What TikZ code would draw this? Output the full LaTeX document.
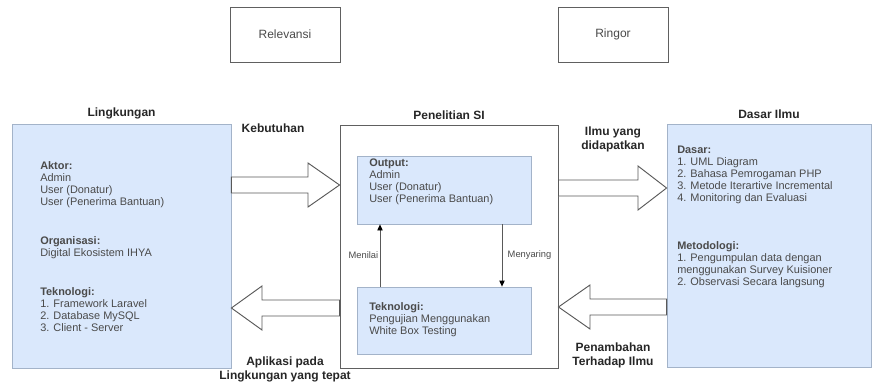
\documentclass[tikz,border=0pt]{standalone}
\usepackage{fontspec}
\setmainfont{Liberation Sans}
\usepackage{xcolor}
\usepackage{tikz}
\usetikzlibrary{arrows.meta, positioning, fit}

\definecolor{boxblue}{HTML}{DAE8FC}
\definecolor{boxline}{HTML}{A3B3C9}
\definecolor{txtgray}{HTML}{4A4A4A}

\begin{document}
\begin{tikzpicture}[x=0.75pt, y=-0.75pt,
    bluebox/.style={draw=boxline, fill=boxblue, inner sep=0pt, line width=0.6pt},
    plainbox/.style={draw=gray!75!black, fill=white, inner sep=0pt, line width=0.7pt},
    boxtext/.style={anchor=north west, align=left, inner sep=0pt, text=txtgray, font=\fontsize{8.2}{9}\selectfont},
    title/.style={font=\fontsize{9}{10.5}\selectfont\bfseries, text=black!85, align=center, inner sep=0pt},
    flowarrow/.style={draw=gray!70!black, fill=white, line width=0.7pt, line join=miter},
    smallarrow/.style={draw=gray!70!black, line width=0.6pt, -{Triangle[length=4.5pt, width=4pt, color=black]}},
    steplabel/.style={font=\fontsize{7}{8}\selectfont, text=txtgray}]
    \useasboundingbox (0,0) rectangle (872,385);

    % Top boxes
    \node[plainbox, minimum width=82.5pt, minimum height=41.25pt, text=txtgray, font=\fontsize{9}{11}\selectfont] (rel) at (285,34.5) {Relevansi};
    \node[plainbox, minimum width=82.5pt, minimum height=41.25pt, text=txtgray, font=\fontsize{9}{11}\selectfont] (rin) at (613,34.5) {Ringor};

    % Main boxes
    \node[bluebox, fit={(12,124) (231,368)}] (lk) {};
    \node[plainbox, fit={(340,125) (558,368)}] (pen) {};
    \node[bluebox, fit={(667,124) (871,367)}] (di) {};
    \node[bluebox, fit={(357,156) (531,224)}] (out) {};
    \node[bluebox, fit={(357,287) (531,354)}] (tek) {};

    % Titles
    \node[title, above=3.5pt of lk] (lktitle) {Lingkungan};
    \node[title, above=3.5pt of pen] (pentitle) {Penelitian SI};
    \node[title, above=3.5pt of di] (dititle) {Dasar Ilmu};

    % Box contents
    \node[boxtext] (aktor) at (40,161) {\textbf{Aktor:}\\Admin\\User (Donatur)\\User (Penerima Bantuan)};
    \node[boxtext] (org) at (40,236) {\textbf{Organisasi:}\\Digital Ekosistem IHYA};
    \node[boxtext] (tekl) at (40,287) {\textbf{Teknologi:}\\1. Framework Laravel\\2. Database MySQL\\3. Client - Server};
    \node[boxtext] (outtxt) at (369,159) {\textbf{Output:}\\Admin\\User (Donatur)\\User (Penerima Bantuan)};
    \node[boxtext] (tektxt) at (369,302) {\textbf{Teknologi:}\\Pengujian Menggunakan\\White Box Testing};
    \node[boxtext] (dasar) at (677,146) {\textbf{Dasar:}\\1. UML Diagram\\2. Bahasa Pemrogaman PHP\\3. Metode Iterartive Incremental\\4. Monitoring dan Evaluasi};
    \node[boxtext] (meto) at (677,241) {\textbf{Metodologi:}\\1. Pengumpulan data dengan\\menggunakan Survey Kuisioner\\2. Observasi Secara langsung};

    % Block arrows
    \draw[flowarrow] (lk.east |- 0,177) -- (308,177) -- (308,163) -- (pen.west |- 0,185) -- (308,207) -- (308,193) -- (lk.east |- 0,193) -- cycle;
    \draw[flowarrow] (pen.west |- 0,300) -- (262,300) -- (262,286) -- (lk.east |- 0,308) -- (262,330) -- (262,316) -- (pen.west |- 0,316) -- cycle;
    \draw[flowarrow] (pen.east |- 0,180) -- (638,180) -- (638,166) -- (di.west |- 0,188) -- (638,210) -- (638,196) -- (pen.east |- 0,196) -- cycle;
    \draw[flowarrow] (di.west |- 0,299) -- (590,299) -- (590,285) -- (pen.east |- 0,307) -- (590,329) -- (590,315) -- (di.west |- 0,315) -- cycle;

    % Arrow labels
    \node[title] (kebutuhan) at (273,128) {Kebutuhan};
    \node[title] (ilmu) at (613,139) {Ilmu yang\\didapatkan};
    \node[title] (aplikasi) at (285,369) {Aplikasi pada\\Lingkungan yang tepat};
    \node[title] (tambah) at (613,355) {Penambahan\\Terhadap Ilmu};

    % Inner arrows
    \draw[smallarrow] (380,0 |- tek.north) -- (380,0 |- out.south) node[steplabel, midway, left, inner sep=1pt] {Menilai};
    \draw[smallarrow] (502,0 |- out.south) -- (502,0 |- tek.north) node[steplabel, midway, right, inner sep=4pt] {Menyaring};
\end{tikzpicture}
\end{document}
